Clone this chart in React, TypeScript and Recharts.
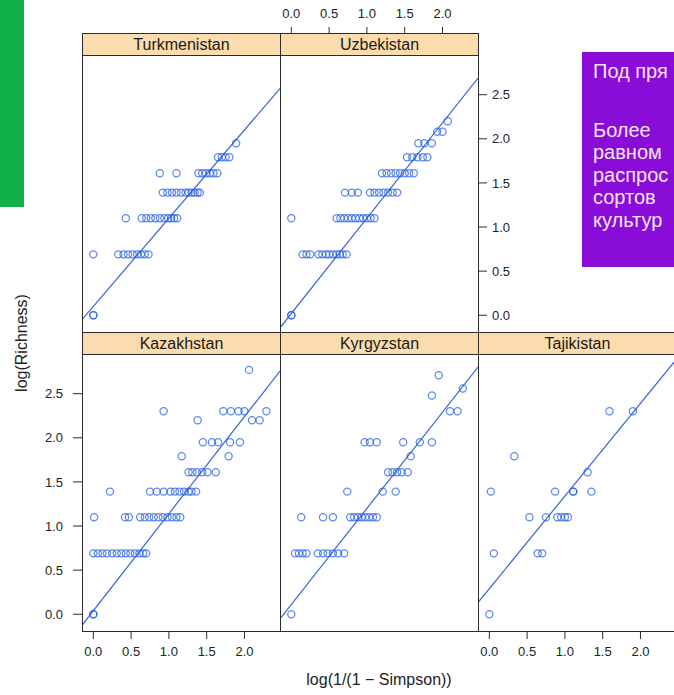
import React from 'react';
import { ScatterChart, Scatter, XAxis, YAxis, ReferenceLine } from 'recharts';

type Pt = [number, number];

const countries = ['Turkmenistan', 'Uzbekistan', 'Kazakhstan', 'Kyrgyzstan', 'Tajikistan'];
const xTicks = [0, 0.5, 1, 1.5, 2];
const yTicks = [0, 0.5, 1, 1.5, 2, 2.5];
const xDomain: [number, number] = [-0.15, 2.47];
const yDomain: [number, number] = [-0.19, 2.95];

const turkmenistan: Pt[] = [
  [0, 0], [0, 0],
  [0, 0.69], [0.33, 0.69], [0.4, 0.69], [0.46, 0.69], [0.52, 0.69], [0.58, 0.69], [0.63, 0.69], [0.68, 0.69], [0.73, 0.69],
  [0.43, 1.1], [0.64, 1.1], [0.7, 1.1], [0.76, 1.1], [0.82, 1.1], [0.88, 1.1], [0.94, 1.1], [0.99, 1.1], [1.03, 1.1], [1.07, 1.1], [1.11, 1.1],
  [0.92, 1.39], [0.98, 1.39], [1.04, 1.39], [1.1, 1.39], [1.16, 1.39], [1.22, 1.39], [1.26, 1.39], [1.3, 1.39], [1.34, 1.39], [1.38, 1.39], [1.41, 1.39],
  [0.88, 1.61], [1.1, 1.61], [1.39, 1.61], [1.44, 1.61], [1.49, 1.61], [1.54, 1.61], [1.59, 1.61], [1.64, 1.61],
  [1.65, 1.79], [1.7, 1.79], [1.75, 1.79], [1.8, 1.79],
  [1.89, 1.95],
];

const uzbekistan: Pt[] = [
  [0, 0], [0, 0], [0, 1.1],
  [0.15, 0.69], [0.2, 0.69], [0.25, 0.69], [0.36, 0.69], [0.41, 0.69], [0.46, 0.69], [0.5, 0.69], [0.55, 0.69], [0.6, 0.69], [0.64, 0.69], [0.68, 0.69], [0.73, 0.69],
  [0.6, 1.1], [0.65, 1.1], [0.7, 1.1], [0.75, 1.1], [0.8, 1.1], [0.85, 1.1], [0.9, 1.1], [0.95, 1.1], [1.0, 1.1], [1.05, 1.1], [1.1, 1.1],
  [0.71, 1.39], [0.8, 1.39], [0.88, 1.39], [1.04, 1.39], [1.1, 1.39], [1.16, 1.39], [1.22, 1.39], [1.28, 1.39], [1.34, 1.39], [1.4, 1.39],
  [1.2, 1.61], [1.26, 1.61], [1.32, 1.61], [1.38, 1.61], [1.44, 1.61], [1.5, 1.61], [1.56, 1.61], [1.62, 1.61],
  [1.53, 1.79], [1.6, 1.79], [1.67, 1.79], [1.74, 1.79], [1.8, 1.79],
  [1.68, 1.95], [1.76, 1.95], [1.86, 1.95],
  [1.93, 2.08], [2.0, 2.08],
  [2.07, 2.2],
];

const kazakhstan: Pt[] = [
  [0, 0], [0, 0], [0.01, 1.1],
  [0, 0.69], [0.06, 0.69], [0.12, 0.69], [0.18, 0.69], [0.25, 0.69], [0.31, 0.69], [0.37, 0.69], [0.43, 0.69], [0.49, 0.69], [0.55, 0.69], [0.61, 0.69], [0.66, 0.69], [0.7, 0.69],
  [0.42, 1.1], [0.47, 1.1], [0.62, 1.1], [0.68, 1.1], [0.74, 1.1], [0.8, 1.1], [0.86, 1.1], [0.92, 1.1], [0.98, 1.1], [1.04, 1.1], [1.1, 1.1], [1.15, 1.1],
  [0.22, 1.39], [0.75, 1.39], [0.84, 1.39], [0.93, 1.39], [1.02, 1.39], [1.08, 1.39], [1.14, 1.39], [1.2, 1.39], [1.26, 1.39], [1.3, 1.39], [1.36, 1.39],
  [1.26, 1.61], [1.31, 1.61], [1.37, 1.61], [1.44, 1.61], [1.51, 1.61], [1.62, 1.61],
  [1.17, 1.79], [1.79, 1.79],
  [1.45, 1.95], [1.57, 1.95], [1.65, 1.95], [1.81, 1.95], [1.94, 1.95],
  [1.38, 2.2], [2.1, 2.2], [2.2, 2.2],
  [0.93, 2.3], [1.72, 2.3], [1.82, 2.3], [1.92, 2.3], [2.0, 2.3], [2.29, 2.3],
  [2.06, 2.77],
];

const kyrgyzstan: Pt[] = [
  [0, 0],
  [0.05, 0.69], [0.1, 0.69], [0.15, 0.69], [0.2, 0.69], [0.35, 0.69], [0.42, 0.69], [0.48, 0.69], [0.55, 0.69], [0.62, 0.69], [0.7, 0.69],
  [0.13, 1.1], [0.42, 1.1], [0.55, 1.1], [0.78, 1.1], [0.83, 1.1], [0.88, 1.1], [0.93, 1.1], [0.98, 1.1], [1.03, 1.1], [1.08, 1.1], [1.13, 1.1],
  [0.74, 1.39], [1.21, 1.39], [1.38, 1.39],
  [1.28, 1.61], [1.34, 1.61], [1.4, 1.61], [1.46, 1.61], [1.54, 1.61],
  [1.58, 1.79],
  [0.97, 1.95], [1.04, 1.95], [1.13, 1.95], [1.48, 1.95], [1.7, 1.95], [1.86, 1.95],
  [2.1, 2.3], [2.2, 2.3],
  [1.86, 2.48], [2.27, 2.56], [1.95, 2.71],
];

const tajikistan: Pt[] = [
  [0, 0],
  [0.06, 0.69], [0.64, 0.69], [0.7, 0.69],
  [0.53, 1.1], [0.75, 1.1], [0.9, 1.1], [0.95, 1.1], [1.0, 1.1], [1.04, 1.1],
  [0.02, 1.39], [0.87, 1.39], [1.11, 1.39], [1.11, 1.39], [1.35, 1.39],
  [1.3, 1.61],
  [0.33, 1.79],
  [1.59, 2.3], [1.9, 2.3],
];

const countryPoints: Pt[][] = [turkmenistan, uzbekistan, kazakhstan, kyrgyzstan, tajikistan];
const fitIntercept = [0.1, 0.02, 0.04, 0.11, 0.29];
const fitSlope = [1.0, 1.08, 1.1, 1.09, 1.05];

const xLabel = 'log(1/(1 − Simpson))';
const yLabel = 'log(Richness)';
const noteLines = ['Под пря', '', 'Более', 'равном', 'распрос', 'сортов', 'культур'];

type Mode = 'none' | 'ticks' | 'labels';
interface PanelLayout {
  left: number;
  top: number;
  axTop: Mode;
  axBottom: Mode;
  axLeft: Mode;
  axRight: Mode;
}

const PW = 198;
const PH = 277;
const M = 60;
const STRIP = 22;
const INK = '#2b2b2b';
const FONT = '"Liberation Sans", Arial, Helvetica, sans-serif';

const layouts: PanelLayout[] = [
  { left: 82, top: 55, axTop: 'ticks', axBottom: 'none', axLeft: 'ticks', axRight: 'none' },
  { left: 280, top: 55, axTop: 'labels', axBottom: 'none', axLeft: 'none', axRight: 'labels' },
  { left: 82, top: 354, axTop: 'none', axBottom: 'labels', axLeft: 'labels', axRight: 'none' },
  { left: 280, top: 354, axTop: 'none', axBottom: 'ticks', axLeft: 'none', axRight: 'none' },
  { left: 478, top: 354, axTop: 'none', axBottom: 'labels', axLeft: 'none', axRight: 'none' },
];

const tickStyle = { fontSize: 13, fill: '#222', fontFamily: FONT };

const axisMode = (mode: Mode) => {
  if (mode === 'none') return { tick: false as const, tickLine: false as const };
  if (mode === 'ticks') return { tick: false as const, tickLine: { stroke: INK } };
  return { tick: tickStyle, tickLine: { stroke: INK } };
};

const Ring = (props: any) => {
  if (props.cx == null || props.cy == null) return <g />;
  return (
    <circle
      cx={props.cx}
      cy={props.cy}
      r={3.6}
      fill="none"
      stroke="#1f5ae8"
      strokeOpacity={0.72}
      strokeWidth={1.25}
    />
  );
};

function Panel({ idx }: { idx: number }) {
  const lay = layouts[idx];
  const data = countryPoints[idx].map(([x, y]) => ({ x, y }));
  const a = fitIntercept[idx];
  const b = fitSlope[idx];
  const seg = [
    { x: xDomain[0], y: a + b * xDomain[0] },
    { x: xDomain[1], y: a + b * xDomain[1] },
  ];
  return (
    <div style={{ position: 'absolute', left: lay.left - M, top: lay.top - M }}>
      <ScatterChart
        width={PW + 2 * M}
        height={PH + 2 * M}
        margin={{ top: 0, right: 0, bottom: 0, left: 0 }}
      >
        <XAxis
          xAxisId="b"
          orientation="bottom"
          type="number"
          dataKey="x"
          domain={xDomain}
          ticks={xTicks}
          allowDataOverflow
          height={M}
          axisLine={false}
          tickSize={8}
          tickMargin={8}
          tickFormatter={(v: number) => v.toFixed(1)}
          {...axisMode(lay.axBottom)}
        />
        <XAxis
          xAxisId="t"
          orientation="top"
          type="number"
          dataKey="x"
          domain={xDomain}
          ticks={xTicks}
          allowDataOverflow
          height={M}
          axisLine={false}
          tickSize={28}
          tickMargin={9}
          tickFormatter={(v: number) => v.toFixed(1)}
          {...axisMode(lay.axTop)}
        />
        <YAxis
          yAxisId="l"
          orientation="left"
          type="number"
          dataKey="y"
          domain={yDomain}
          ticks={yTicks}
          allowDataOverflow
          width={M}
          axisLine={false}
          tickSize={9}
          tickMargin={10}
          tickFormatter={(v: number) => v.toFixed(1)}
          {...axisMode(lay.axLeft)}
        />
        <YAxis
          yAxisId="r"
          orientation="right"
          type="number"
          dataKey="y"
          domain={yDomain}
          ticks={yTicks}
          allowDataOverflow
          width={M}
          axisLine={false}
          tickSize={9}
          tickMargin={5}
          tickFormatter={(v: number) => v.toFixed(1)}
          {...axisMode(lay.axRight)}
        />
        <ReferenceLine
          xAxisId="b"
          yAxisId="l"
          segment={seg}
          stroke="#3a64d8"
          strokeWidth={1.2}
          ifOverflow="hidden"
        />
        <Scatter
          xAxisId="b"
          yAxisId="l"
          data={data}
          shape={Ring}
          isAnimationActive={false}
        />
        <Scatter
          xAxisId="t"
          yAxisId="r"
          data={data}
          shape={() => <g />}
          isAnimationActive={false}
        />
      </ScatterChart>
    </div>
  );
}

export default function App() {
  return (
    <div
      style={{
        position: 'absolute',
        left: 0,
        top: 0,
        width: 674,
        height: 695,
        overflow: 'hidden',
        background: '#ffffff',
        fontFamily: FONT,
      }}
    >
      {countries.map((_, i) => (
        <Panel key={'p' + i} idx={i} />
      ))}
      {countries.map((name, i) => {
        const lay = layouts[i];
        return (
          <React.Fragment key={'s' + i}>
            <div
              style={{
                position: 'absolute',
                left: lay.left,
                top: lay.top,
                width: PW + 1,
                height: PH + 1,
                boxSizing: 'border-box',
                border: `1px solid ${INK}`,
                pointerEvents: 'none',
              }}
            />
            <div
              style={{
                position: 'absolute',
                left: lay.left,
                top: lay.top - STRIP,
                width: PW + 1,
                height: STRIP + 1,
                boxSizing: 'border-box',
                border: `1px solid ${INK}`,
                background: '#fbdcae',
                display: 'flex',
                alignItems: 'center',
                justifyContent: 'center',
                fontSize: 16,
                color: '#1e1a14',
                lineHeight: '20px',
              }}
            >
              {name}
            </div>
          </React.Fragment>
        );
      })}
      <div
        style={{
          position: 'absolute',
          left: 22 - 100,
          top: 343 - 10,
          width: 200,
          height: 20,
          textAlign: 'center',
          fontSize: 16,
          lineHeight: '20px',
          color: '#222',
          transform: 'rotate(-90deg)',
        }}
      >
        {yLabel}
      </div>
      <div
        style={{
          position: 'absolute',
          left: 379 - 150,
          top: 670,
          width: 300,
          height: 20,
          textAlign: 'center',
          fontSize: 16,
          lineHeight: '20px',
          color: '#222',
        }}
      >
        {xLabel}
      </div>
      <div
        style={{
          position: 'absolute',
          left: 0,
          top: 0,
          width: 24,
          height: 207,
          background: '#10b04b',
        }}
      />
      <div
        style={{
          position: 'absolute',
          left: 582,
          top: 52,
          width: 120,
          height: 215,
          background: '#8a0cd8',
          color: '#f6e4f4',
          fontSize: 20,
          lineHeight: '22.6px',
          padding: '8px 0 0 11px',
          boxSizing: 'border-box',
          whiteSpace: 'nowrap',
        }}
      >
        {noteLines.map((t, i) => (
          <div key={'n' + i} style={{ height: i === 1 ? 36 : 22.6 }}>
            {t}
          </div>
        ))}
      </div>
    </div>
  );
}
